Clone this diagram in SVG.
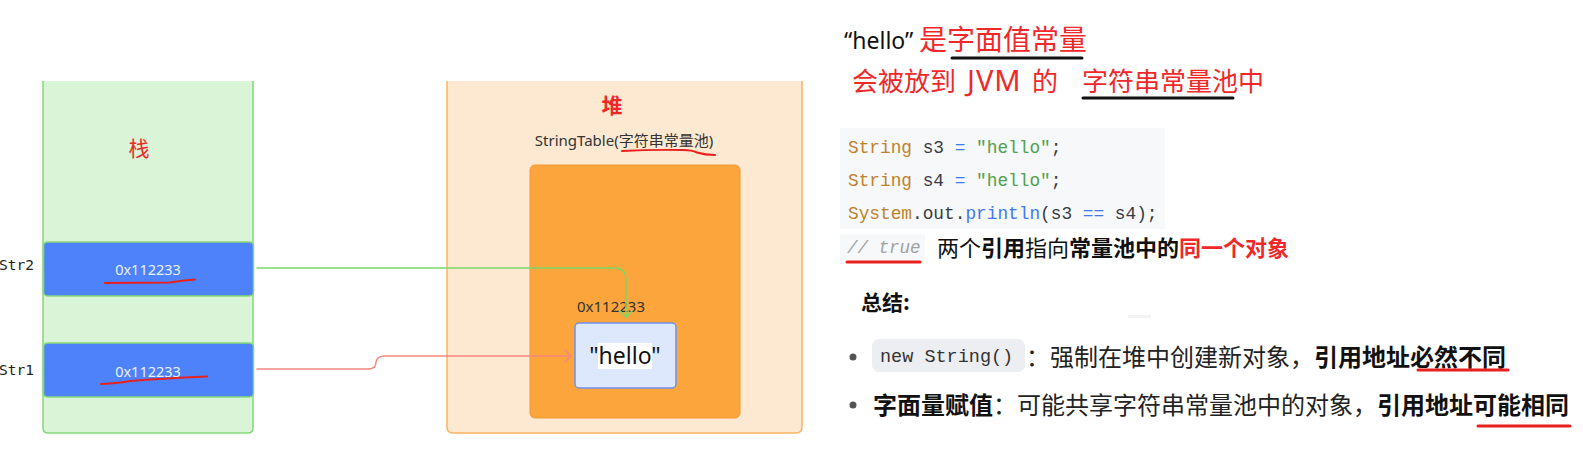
<svg xmlns="http://www.w3.org/2000/svg" width="1583" height="451" viewBox="0 0 1583 451">
<style>
.sans{font-family:"Noto Sans","Noto Sans CJK SC",sans-serif}
.cjk{font-family:"Noto Sans CJK SC","Noto Sans",sans-serif}
.mono{font-family:"Liberation Mono","DejaVu Sans Mono",monospace}
.red{fill:#f0282a}
.b{font-weight:bold}
.k{fill:#c0812b}
.o{fill:#4078f2}
.s{fill:#50a14f}
.d{fill:#383a42}
.ul{fill:none;stroke-linecap:round;stroke-linejoin:round}
.conn{fill:none;stroke-width:1.5;stroke-linejoin:round;stroke-linecap:round}
</style>
<rect width="1583" height="451" fill="#ffffff"/>

<g id="stack">
<rect x="43" y="81" width="210" height="352" rx="4" fill="#d9f4d6"/>
<rect x="43" y="81" width="210" height="10" fill="#d9f4d6"/>
<path d="M43 81 V428 Q43 433 48 433 H248 Q253 433 253 428 V81" fill="none" stroke="#85d879" stroke-width="1.5"/>
<text x="139" y="156" font-size="21" text-anchor="middle" class="cjk red">栈</text>
</g>

<g id="str2">
<rect x="43.5" y="242" width="210" height="54" rx="4" fill="#4d82fa" stroke="#86d879" stroke-width="1.5"/>
<text x="148" y="275" font-size="14.5" text-anchor="middle" class="sans" fill="#eaf0ff">0x112233</text>
<path class="ul" d="M105 283 L170 282.5 L180 281 L195 279.5" stroke="#e8201e" stroke-width="2"/>
<text x="-1" y="270" font-size="14.5" font-family="DejaVu Sans Mono, monospace" fill="#222">Str2</text>
</g>

<g id="str1">
<rect x="43.5" y="343" width="210" height="54" rx="4" fill="#4d82fa" stroke="#86d879" stroke-width="1.5"/>
<text x="148" y="377" font-size="14.5" text-anchor="middle" class="sans" fill="#eaf0ff">0x112233</text>
<path class="ul" d="M101 384 Q120 383 130 381 L150 379.5 L185 377.5 L207 376.5" stroke="#e8201e" stroke-width="2"/>
<text x="-1" y="375" font-size="14.5" font-family="DejaVu Sans Mono, monospace" fill="#222">Str1</text>
</g>

<g id="heap">
<rect x="447" y="81" width="355" height="352" rx="5" fill="#fde8d1"/>
<rect x="447" y="81" width="355" height="10" fill="#fde8d1"/>
<path d="M447 81 V427 Q447 433 453 433 H796 Q802 433 802 427 V81" fill="none" stroke="#fbb263" stroke-width="1.5"/>
<text x="612" y="113" font-size="21" text-anchor="middle" class="cjk red b">堆</text>
<text x="624" y="146" font-size="15" text-anchor="middle" class="sans" fill="#333">StringTable(字符串常量池)</text>
<path class="ul" d="M622 151 Q650 149.5 683 150 Q692 150 697 152.5 Q705 155 715 155" stroke="#e8201e" stroke-width="2"/>
</g>

<g id="pool">
<rect x="530" y="165" width="210" height="253" rx="5" fill="#fba53c" stroke="#f19a35" stroke-width="1"/>
<text x="611" y="312" font-size="15" text-anchor="middle" class="sans" fill="#333">0x112233</text>
</g>

<g id="hello">
<rect x="575" y="323" width="101" height="65" rx="4" fill="#dee8fd" stroke="#6e90ef" stroke-width="1.5"/>
<rect x="598" y="343" width="54" height="26" fill="#ffffff"/>
<text x="625" y="364" font-size="23" text-anchor="middle" class="sans" fill="#111">"hello"</text>
</g>

<g id="connectors">
<path class="conn" d="M257 268 H614 Q626 268 626 280 V317" stroke="#7bd765"/>
<path class="conn" d="M620 311 L626 317 L632 311" stroke="#7bd765"/>
<path class="conn" d="M257 369 H368 Q376 369 376 362 Q377 356 385 356 H571" stroke="#f7867f"/>
<path class="conn" d="M565 350 L571 356 L565 362" stroke="#f7867f"/>
</g>

<g id="title">
<text x="844" y="49" font-size="23" class="sans" fill="#111">“hello”</text>
<text x="919" y="50" font-size="28" class="cjk red">是字面值常量</text>
<path class="ul" d="M952 58 L1082 58" stroke="#111" stroke-width="3"/>
<text y="91" font-size="26" class="cjk red"><tspan x="852">会被放到</tspan><tspan x="967" class="sans" font-size="29" letter-spacing="1">JVM</tspan><tspan x="1032">的</tspan><tspan x="1082">字符串常量池中</tspan></text>
<path class="ul" d="M1083 98 L1233 98" stroke="#111" stroke-width="3"/>
</g>

<g id="code">
<rect x="840" y="128" width="325" height="101" fill="#f6f8fa"/>
<text x="848" y="153" font-size="17.8" class="mono d"><tspan class="k">String</tspan> s3 <tspan class="o">=</tspan> <tspan class="s">"hello"</tspan>;</text>
<text x="848" y="186" font-size="17.8" class="mono d"><tspan class="k">String</tspan> s4 <tspan class="o">=</tspan> <tspan class="s">"hello"</tspan>;</text>
<text x="848" y="219" font-size="17.8" class="mono d"><tspan class="k">System</tspan>.out.<tspan class="o">println</tspan>(s3 <tspan class="o">==</tspan> s4);</text>
<rect x="840" y="234" width="85" height="26" fill="#f6f8fa"/>
<text x="847" y="253" font-size="17.5" class="mono" font-style="italic" fill="#a0a1a7">// true</text>
<path class="ul" d="M847 262 L920 262" stroke="#e8201e" stroke-width="3"/>
<text x="937" y="256" font-size="22" class="cjk" fill="#111">两个<tspan class="b">引用</tspan>指向<tspan class="b">常量池中的</tspan><tspan class="b red">同一个对象</tspan></text>
</g>

<g id="summary">
<text x="861" y="310" font-size="21" class="cjk b" fill="#111">总结:</text>
<rect x="1128" y="315" width="23" height="3" fill="#f2f2f2"/>
<circle cx="853" cy="357" r="3.5" fill="#555"/>
<rect x="872" y="339" width="153" height="33" rx="7" fill="#eceef2"/>
<text x="880" y="362" font-size="18.5" class="mono" fill="#333">new String()</text>
<text x="1026" y="366" font-size="24" class="cjk" fill="#222">：强制在堆中创建新对象，<tspan class="b" fill="#111">引用地址必然不同</tspan></text>
<path class="ul" d="M1418 370 L1508 370" stroke="#e8201e" stroke-width="3"/>
<circle cx="853" cy="405" r="3.5" fill="#555"/>
<text x="873" y="414" font-size="24" class="cjk" fill="#222"><tspan class="b" fill="#111">字面量赋值</tspan>：可能共享字符串常量池中的对象，<tspan class="b" fill="#111">引用地址可能相同</tspan></text>
<path class="ul" d="M1478 426 L1570 426" stroke="#e8201e" stroke-width="3"/>
</g>
</svg>
